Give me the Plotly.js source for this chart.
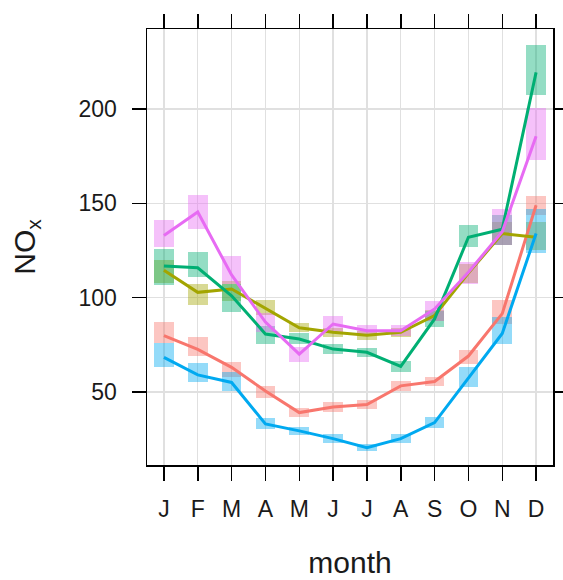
<!DOCTYPE html>
<html>
<head>
<meta charset="utf-8">
<script src="https://cdn.plot.ly/plotly-3.0.1.min.js"></script>
<style>html,body{margin:0;padding:0;background:#fff;}#chart{width:563px;height:580px;}</style>
</head>
<body>
<div id="chart"></div>
<script>
const months = [1,2,3,4,5,6,7,8,9,10,11,12];
const monthLabels = ["J","F","M","A","M","J","J","A","S","O","N","D"];
const yTicks = [50,100,150,200];

// series means
const redMean   = [79.8, 72.5, 63, 50.5, 39, 42, 43.3, 53.2, 55.5, 69, 91.5, 149];
const oliveMean = [114.5, 102.8, 104.6, 94.5, 84, 81.6, 80, 81.6, 90.5, 113, 134, 132];
const greenMean = [116.8, 115.8, 101, 80.7, 78, 72.7, 71, 63.5, 88.7, 132, 136.3, 219.5];
const blueMean  = [68.3, 59, 55, 33, 29.3, 25.2, 20.4, 25.2, 33.7, 57.6, 81, 134];
const pinkMean  = [133, 145.4, 112, 87, 70, 86, 82.4, 82.4, 94, 113.5, 135, 185.6];

// confidence interval bounds
const redLower   = [76, 69, 58, 47, 36.5, 39.5, 41, 50.5, 53, 65, 86, 144];
const redUpper   = [87, 79, 66, 53, 41.5, 44.5, 45.5, 56, 58, 72, 99, 154];
const oliveLower = [108, 96, 98, 91, 81.5, 79, 77.5, 79, 87.5, 108, 128, 125];
const oliveUpper = [120, 107, 109, 99, 86.5, 84, 82.5, 84, 93.5, 118, 140, 140];
const greenLower = [106.5, 110.8, 92.2, 75.4, 75.5, 70, 68.5, 60.5, 84.2, 126.7, 128, 207.4];
const greenUpper = [126, 124.1, 107.3, 85.1, 81, 75.5, 73.5, 66.5, 93, 138.3, 144, 234];
const blueLower  = [63, 55, 50.5, 30.5, 27, 23, 18.5, 23, 31, 52.5, 75.5, 123.5];
const blueUpper  = [76, 65.5, 60.3, 36, 31.5, 27.5, 22.5, 27.5, 36.5, 63, 89.5, 147];
const pinkLower  = [126.8, 136.5, 107.3, 82, 66, 82, 79.5, 79.5, 87.8, 107.3, 128, 172.9];
const pinkUpper  = [141, 154.3, 122.3, 92, 74, 90, 85.5, 85.5, 98.4, 118.8, 147, 200.4];

const series = [
  {name:"a", mean:redMean,   lo:redLower,   hi:redUpper,   col:"248,118,109"},
  {name:"b", mean:oliveMean, lo:oliveLower, hi:oliveUpper, col:"163,165,0"},
  {name:"c", mean:greenMean, lo:greenLower, hi:greenUpper, col:"0,175,115"},
  {name:"d", mean:blueMean,  lo:blueLower,  hi:blueUpper,  col:"0,169,240"},
  {name:"e", mean:pinkMean,  lo:pinkLower,  hi:pinkUpper,  col:"231,107,243"}
];

const traces = [];
series.forEach(s => {
  traces.push({
    type:"bar", x:months, base:s.lo, y:s.hi.map((h,i)=>h - s.lo[i]),
    width:0.58, marker:{color:"rgba("+s.col+",0.42)", line:{width:0}},
    hoverinfo:"skip", showlegend:false
  });
});
series.forEach(s => {
  traces.push({
    type:"scatter", mode:"lines", x:months, y:s.mean, name:s.name,
    line:{color:"rgb("+s.col+")", width:3}, hoverinfo:"skip", showlegend:false
  });
});

const axisCommon = {
  showline:true, linecolor:"#000", linewidth:1.5, mirror:"ticks",
  ticks:"outside", ticklen:14, tickwidth:1.5, tickcolor:"#000",
  showgrid:true, gridcolor:"#e0e0e0", gridwidth:1.3, zeroline:false,
  tickfont:{family:"Liberation Sans, Arial, sans-serif", size:23, color:"#1a1a1a"}
};

const layout = {
  width:563, height:580,
  margin:{l:147, r:10, t:29, b:115},
  paper_bgcolor:"#fff", plot_bgcolor:"#fff",
  barmode:"overlay", bargap:0,
  xaxis:Object.assign({}, axisCommon, {
    range:[0.5,12.5], tickvals:months, ticktext:monthLabels,
    ticklabelstandoff:9,
    title:{text:"month", standoff:31, font:{family:"Liberation Sans, Arial, sans-serif", size:30, color:"#1a1a1a"}}
  }),
  yaxis:Object.assign({}, axisCommon, {
    range:[11.2,242.5], tickvals:yTicks, ticktext:yTicks.map(String),
    ticklabelstandoff:10,
    title:{text:"NO<sub>x</sub>", standoff:34, font:{family:"Liberation Sans, Arial, sans-serif", size:30, color:"#1a1a1a"}}
  }),
  showlegend:false
};

Plotly.newPlot("chart", traces, layout, {staticPlot:true, displayModeBar:false});
</script>
</body>
</html>
